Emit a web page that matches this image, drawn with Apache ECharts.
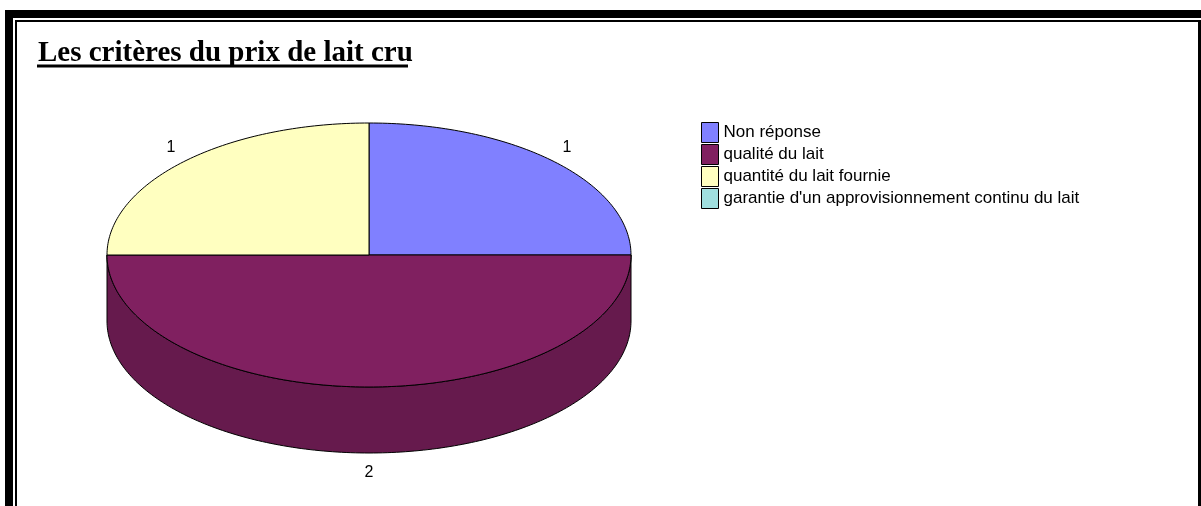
<!DOCTYPE html>
<html>
<head>
<meta charset="utf-8">
<script src="https://cdn.jsdelivr.net/npm/echarts@6/dist/echarts.min.js"></script>
<style>
  html, body { margin: 0; padding: 0; background: #fff; }
  #main { width: 1201px; height: 506px; }
</style>
</head>
<body>
<div id="main"></div>
<script>
// 数据
var categories = ['Non réponse', 'qualité du lait', 'quantité du lait fournie', "garantie d'un approvisionnement continu du lait"];
var values = [1, 2, 1, 0];
var colors = ['#8080FF', '#802060', '#FFFFC0', '#A0E0E0'];

// 饼图几何 (伪3D 椭圆)
var cx = 369, cy = 255, rx = 262, ry = 132, depth = 66;

function darken(hex, k) {
    var n = parseInt(hex.slice(1), 16);
    var r = Math.round(((n >> 16) & 255) * k);
    var g = Math.round(((n >> 8) & 255) * k);
    var b = Math.round((n & 255) * k);
    return 'rgb(' + r + ',' + g + ',' + b + ')';
}

function ellPt(a, dy) {
    var r = a * Math.PI / 180;
    return [cx + rx * Math.sin(r), cy + dy - ry * Math.cos(r)];
}

function arc(a1, a2, dy) {
    var pts = [];
    var n = Math.max(2, Math.ceil(Math.abs(a2 - a1)));
    for (var i = 0; i <= n; i++) {
        pts.push(ellPt(a1 + (a2 - a1) * i / n, dy));
    }
    return pts;
}

// 每个扇区的起止角度 (从12点钟方向顺时针)
var total = values.reduce(function (s, v) { return s + v; }, 0);
var acc = 0;
var slices = values.map(function (v) {
    var s = acc / total * 360;
    acc += v;
    return [s, acc / total * 360, v];
});

function renderSlice(color) {
    return function (params, api) {
        var a1 = api.value(0), a2 = api.value(1), v = api.value(2);
        if (!v) return;
        var children = [];
        // 侧面 (只画前半部分 90°~270°)
        var s = Math.max(a1, 90), e = Math.min(a2, 270);
        if (s < e) {
            children.push({
                type: 'polygon',
                z2: 1,
                shape: { points: arc(s, e, 0).concat(arc(e, s, depth)) },
                style: { fill: darken(color, 0.8), stroke: '#000', lineWidth: 1 }
            });
        }
        // 顶面
        children.push({
            type: 'polygon',
            z2: 10,
            shape: { points: [[cx, cy]].concat(arc(a1, a2, 0)) },
            style: { fill: color, stroke: '#000', lineWidth: 1 }
        });
        // 标签
        var m = (a1 + a2) / 2;
        var front = m > 90 && m < 270;
        var p = ellPt(m, front ? depth : 0);
        var mr = m * Math.PI / 180;
        children.push({
            type: 'text',
            z2: 20,
            style: {
                text: String(v),
                x: p[0] + 18 * Math.sin(mr),
                y: p[1] - 20 * Math.cos(mr),
                align: 'center',
                verticalAlign: 'middle',
                fill: '#000',
                font: '16px "Liberation Sans", Arial, sans-serif'
            }
        });
        return { type: 'group', children: children };
    };
}

var myChart = echarts.init(document.getElementById('main'));

var option = {
    backgroundColor: '#fff',
    animation: false,
    title: {
        text: 'Les critères du prix de lait cru',
        left: 33,
        top: 34,
        textStyle: {
            fontFamily: 'Liberation Serif',
            fontWeight: 'bold',
            fontSize: 29,
            color: '#000'
        }
    },
    legend: {
        orient: 'vertical',
        left: 701,
        top: 122,
        padding: 0,
        icon: 'rect',
        itemWidth: 17,
        itemHeight: 20,
        itemGap: 1,
        selectedMode: false,
        itemStyle: { borderColor: '#000', borderWidth: 1 },
        textStyle: { fontFamily: 'Liberation Sans', fontSize: 17, lineHeight: 21, color: '#000' },
        data: categories
    },
    graphic: [
        // 外框
        { type: 'rect', shape: { x: 5, y: 10, width: 1196, height: 8 }, style: { fill: '#000' } },
        { type: 'rect', shape: { x: 5, y: 10, width: 8, height: 496 }, style: { fill: '#000' } },
        { type: 'rect', shape: { x: 15, y: 20, width: 1183, height: 2 }, style: { fill: '#000' } },
        { type: 'rect', shape: { x: 15, y: 20, width: 2, height: 486 }, style: { fill: '#000' } },
        { type: 'rect', shape: { x: 1198, y: 20, width: 3, height: 486 }, style: { fill: '#000' } },
        // 标题下划线
        { type: 'line', shape: { x1: 37, y1: 66, x2: 408, y2: 66 }, style: { stroke: '#000', lineWidth: 3 } }
    ],
    series: categories.map(function (name, i) {
        return {
            name: name,
            type: 'custom',
            coordinateSystem: 'none',
            itemStyle: { color: colors[i] },
            data: [slices[i]],
            renderItem: renderSlice(colors[i])
        };
    })
};

myChart.setOption(option);
</script>
</body>
</html>
